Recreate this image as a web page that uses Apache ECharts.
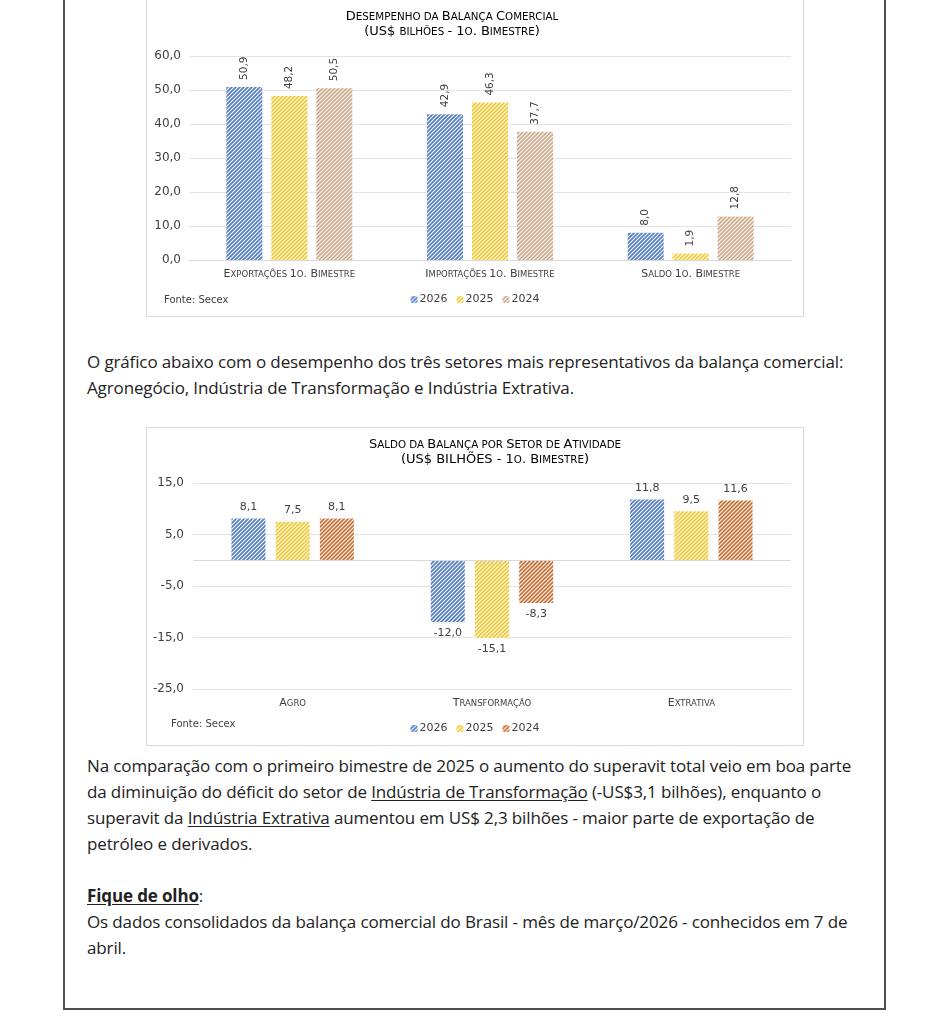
<!DOCTYPE html>
<html><head><meta charset="utf-8">
<script src="https://cdn.jsdelivr.net/npm/echarts@6/dist/echarts.min.js"></script>
<style>
html,body{margin:0;padding:0;background:#fff;width:949px;height:1024px;overflow:hidden;position:relative;font-family:"Open Sans",sans-serif;}
#frame{position:absolute;left:63px;top:-10px;width:819px;height:1016px;border:2px solid #505050;}
.box{position:absolute;left:146px;width:656px;border:1px solid #d9d9d9;background:#fff;}
#c1{top:-1px;height:316px;}
#c2{top:427px;height:317px;}
.p{position:absolute;left:87px;font-size:17px;letter-spacing:-0.13px;line-height:26px;color:#222;white-space:nowrap;}
.p u{text-underline-offset:2px;}
</style></head>
<body>
<div id="frame"></div>
<div id="c1" class="box"></div>
<div id="c2" class="box"></div>
<div class="p" style="top:349px">O gráfico abaixo com o desempenho dos três setores mais representativos da balança comercial:<br>Agronegócio, Indústria de Transformação e Indústria Extrativa.</div>
<div class="p" style="top:753px">Na comparação com o primeiro bimestre de 2025 o aumento do superavit total veio em boa parte<br>da diminuição do déficit do setor de <u>Indústria de Transformação</u> (-US$3,1 bilhões), enquanto o<br>superavit da <u>Indústria Extrativa</u> aumentou em US$ 2,3 bilhões - maior parte de exportação de<br>petróleo e derivados.<br><br><b><u>Fique de olho</u></b>:<br>Os dados consolidados da balança comercial do Brasil - mês de março/2026 - conhecidos em 7 de<br>abril.</div>
<script>
// ---- data ----
const years = ['2026', '2025', '2024'];
const categories1 = ['Exportações 1o. Bimestre', 'Importações 1o. Bimestre', 'Saldo 1o. Bimestre'];
const values1_2026 = [50.9, 42.9, 8.0];
const values1_2025 = [48.2, 46.3, 1.9];
const values1_2024 = [50.5, 37.7, 12.8];
const categories2 = ['Agro', 'Transformação', 'Extrativa'];
const values2_2026 = [8.1, -12.0, 11.8];
const values2_2025 = [7.5, -15.1, 9.5];
const values2_2024 = [8.1, -8.3, 11.6];
const title1 = ['Desempenho da Balança Comercial', '(US$ bilhões - 1o. Bimestre)'];
const title2 = ['Saldo da Balança por Setor de Atividade', '(US$ BILHÕES - 1o. Bimestre)'];
const source = 'Fonte: Secex';

// ---- helpers ----
const FONT = 'DejaVu Sans';
function sc(str) {
  let out = '', cur = null, buf = '';
  for (const ch of str) {
    let t;
    if (ch === ' ') t = cur || 'b';
    else if (ch !== ch.toUpperCase()) t = 's';
    else t = 'b';
    const c = t === 's' ? ch.toUpperCase() : ch;
    if (t !== cur) { if (buf) out += '{' + cur + '|' + buf + '}'; buf = ''; cur = t; }
    buf += c;
  }
  if (buf) out += '{' + cur + '|' + buf + '}';
  return out;
}
function fmt(v) { return Number(v).toFixed(1).replace('.', ','); }
function hatch(color) {
  const c = document.createElement('canvas'); c.width = c.height = 4;
  const g = c.getContext('2d');
  g.fillStyle = '#fff'; g.fillRect(0, 0, 4, 4);
  g.strokeStyle = color; g.lineWidth = 1.7;
  g.beginPath();
  g.moveTo(-1, 5); g.lineTo(5, -1);
  g.moveTo(-1, 1); g.lineTo(1, -1);
  g.moveTo(3, 5); g.lineTo(5, 3);
  g.stroke();
  return { image: c, repeat: 'repeat' };
}
const titleRich = {
  b: { fontFamily: FONT, fontSize: 13, fontWeight: 'normal', color: '#404040', lineHeight: 15 },
  s: { fontFamily: FONT, fontSize: 10.3, fontWeight: 'normal', color: '#404040', lineHeight: 15 }
};
const catRich = {
  b: { fontFamily: FONT, fontSize: 11, color: '#404040' },
  s: { fontFamily: FONT, fontSize: 8.5, color: '#404040' }
};
function titleGraphic(lines, cx, y) {
  return lines.map((l, k) => ({
    type: 'text', x: cx, y: y + k * 15,
    style: { text: sc(l), rich: titleRich, align: 'center', verticalAlign: 'middle' }
  }));
}

// ---- chart 1 ----
const colors1 = [hatch('#4f7cc6'), hatch('#f2c82e'), hatch('#cda688')];
const vals1 = [values1_2026, values1_2025, values1_2024];
const ch1 = echarts.init(document.getElementById('c1'));
ch1.setOption({
  animation: false,
  grid: { left: 42, right: 12, top: 56, bottom: 56 },
  legend: {
    data: years, bottom: 6, left: 'center', itemWidth: 7, itemHeight: 7, itemGap: 9,
    textStyle: { fontFamily: FONT, fontSize: 11, color: '#404040', padding: [0, 0, 0, -3] }
  },
  graphic: titleGraphic(title1, 305, 17).concat([
    { type: 'text', left: 17, top: 295, style: { text: source, font: '10px "DejaVu Sans"', fill: '#404040' } }
  ]),
  xAxis: {
    type: 'category', data: categories1,
    axisLine: { lineStyle: { color: '#d9d9d9' } }, axisTick: { show: false },
    axisLabel: { interval: 0, margin: 9, formatter: v => sc(v), rich: catRich }
  },
  yAxis: {
    type: 'value', min: 0, max: 60, interval: 10,
    axisLabel: { formatter: fmt, fontFamily: FONT, fontSize: 12, color: '#404040', margin: 8 },
    splitLine: { lineStyle: { color: '#e3e3e3' } }
  },
  series: years.map((y, i) => ({
    name: y, type: 'bar', data: vals1[i], barWidth: 36, barGap: '25%',
    itemStyle: { color: colors1[i] },
    label: {
      show: true, position: 'top', rotate: 90, align: 'left', verticalAlign: 'middle', distance: 7,
      formatter: p => fmt(p.value), fontFamily: FONT, fontSize: 10.5, color: '#404040'
    }
  }))
});

// ---- chart 2 ----
const colors2 = [hatch('#4f7cc6'), hatch('#f2c82e'), hatch('#cc6a2c')];
const vals2 = [values2_2026, values2_2025, values2_2024];
const ch2 = echarts.init(document.getElementById('c2'));
ch2.setOption({
  animation: false,
  grid: { left: 46, right: 12, top: 55, bottom: 56 },
  legend: {
    data: years, bottom: 6, left: 'center', itemWidth: 7, itemHeight: 7, itemGap: 9,
    textStyle: { fontFamily: FONT, fontSize: 11, color: '#404040', padding: [0, 0, 0, -3] }
  },
  graphic: titleGraphic(title2, 348, 17).concat([
    { type: 'text', left: 24, top: 291, style: { text: source, font: '10px "DejaVu Sans"', fill: '#404040' } }
  ]),
  xAxis: {
    type: 'category', data: categories2,
    axisLine: { show: false, onZero: false }, axisTick: { show: false },
    axisLabel: { interval: 0, margin: 9, formatter: v => sc(v), rich: catRich }
  },
  yAxis: {
    type: 'value', min: -25, max: 15, interval: 10,
    axisLabel: { formatter: fmt, fontFamily: FONT, fontSize: 12, color: '#404040', margin: 9 },
    splitLine: { lineStyle: { color: '#e3e3e3' } }
  },
  series: years.map((y, i) => ({
    name: y, type: 'bar', barWidth: 34, barGap: '30%',
    data: vals2[i].map(v => ({ value: v, label: { position: v < 0 ? 'bottom' : 'top' } })),
    itemStyle: { color: colors2[i] },
    label: { show: true, distance: 6, formatter: p => fmt(p.value), fontFamily: FONT, fontSize: 11, color: '#404040' },
    markLine: i === 0 ? {
      silent: true, symbol: 'none', label: { show: false },
      lineStyle: { color: '#d9d9d9', type: 'solid', width: 1 },
      data: [{ yAxis: 0 }]
    } : undefined
  }))
});
</script>
</body></html>
